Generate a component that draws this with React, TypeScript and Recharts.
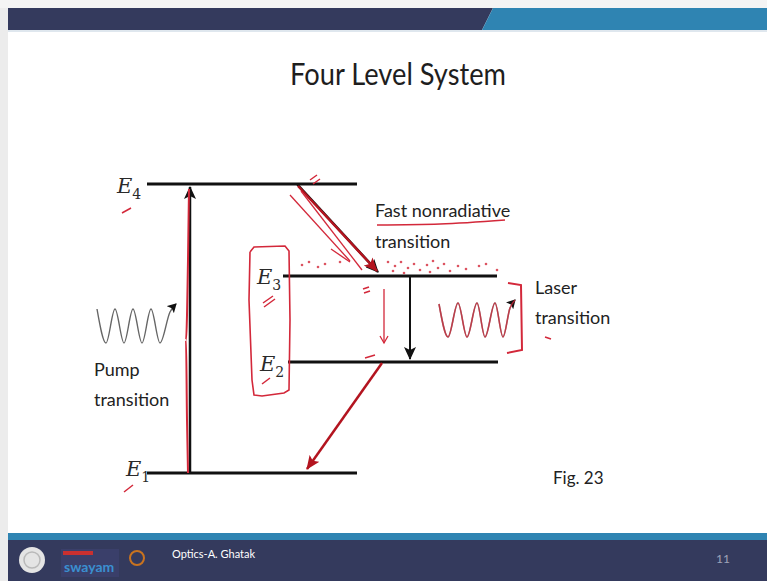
import React from 'react';
import { ComposedChart, Line, Scatter, XAxis, YAxis } from 'recharts';

// ---- Diagram data (diagram units: x across, y down) ----
const levelNames = ['E4', 'E3', 'E2', 'E1'];
const levelHeights = [184, 276, 362, 473];
const levelStarts = [147, 283, 288, 147];
const levelEnds = [357, 497, 498, 357];

const pumpArrow = [{ x: 190, y: 473 }, { x: 190, y: 187 }];
const nonradArrow = [{ x: 297, y: 184 }, { x: 378, y: 272 }];
const laserArrow = [{ x: 410, y: 277 }, { x: 410, y: 359 }];
const decayArrow = [{ x: 382, y: 363 }, { x: 307, y: 469 }];

const pumpWave = [
  { x: 97, y: 309 }, { x: 106, y: 343 }, { x: 115, y: 309 }, { x: 124, y: 343 },
  { x: 133, y: 309 }, { x: 142, y: 343 }, { x: 151, y: 309 }, { x: 160, y: 343 },
  { x: 170, y: 312 }, { x: 176, y: 304 },
];
const laserWave = [
  { x: 439, y: 304 }, { x: 448, y: 337 }, { x: 458, y: 303 }, { x: 467, y: 337 },
  { x: 477, y: 303 }, { x: 485, y: 337 }, { x: 495, y: 303 }, { x: 503, y: 337 },
  { x: 510, y: 308 }, { x: 515, y: 300 },
];

// red hand annotations
const redPump = [{ x: 188, y: 473 }, { x: 187, y: 420 }, { x: 186, y: 340 }, { x: 188, y: 260 }, { x: 189, y: 189 }];
const redNonrad = [{ x: 298, y: 186 }, { x: 377, y: 271 }];
const redStroke1 = [{ x: 290, y: 195 }, { x: 350, y: 261 }];
const redStroke2 = [{ x: 301, y: 191 }, { x: 362, y: 270 }];
const redStroke3 = [{ x: 331, y: 249 }, { x: 350, y: 262 }];
const redDown = [{ x: 384, y: 289 }, { x: 384, y: 343 }];
const redBox = [
  { x: 250, y: 252 }, { x: 254, y: 247 }, { x: 285, y: 246 }, { x: 289, y: 251 },
  { x: 290, y: 320 }, { x: 289, y: 390 }, { x: 284, y: 393 }, { x: 262, y: 396 },
  { x: 254, y: 395 }, { x: 252, y: 380 }, { x: 249, y: 300 }, { x: 250, y: 252 },
];
const redBracket = [{ x: 508, y: 283 }, { x: 521, y: 285 }, { x: 522, y: 350 }, { x: 507, y: 353 }];
const redUnderline = [{ x: 377, y: 225 }, { x: 440, y: 224 }, { x: 505, y: 220 }];
const redTicks = [
  [{ x: 122, y: 213 }, { x: 131, y: 208 }],
  [{ x: 310, y: 180 }, { x: 317, y: 175 }],
  [{ x: 313, y: 184 }, { x: 320, y: 179 }],
  [{ x: 263, y: 303 }, { x: 273, y: 296 }],
  [{ x: 264, y: 307 }, { x: 275, y: 299 }],
  [{ x: 262, y: 384 }, { x: 270, y: 378 }],
  [{ x: 124, y: 492 }, { x: 133, y: 485 }],
  [{ x: 363, y: 289 }, { x: 369, y: 287 }],
  [{ x: 364, y: 293 }, { x: 370, y: 291 }],
  [{ x: 365, y: 358 }, { x: 375, y: 355 }],
  [{ x: 545, y: 337 }, { x: 551, y: 339 }],
];
const redDots = [
  { x: 302, y: 265 }, { x: 309, y: 262 }, { x: 318, y: 267 }, { x: 325, y: 264 },
  { x: 340, y: 262 }, { x: 388, y: 262 }, { x: 395, y: 266 }, { x: 401, y: 262 },
  { x: 408, y: 268 }, { x: 414, y: 264 }, { x: 420, y: 270 }, { x: 427, y: 265 },
  { x: 433, y: 261 }, { x: 438, y: 268 }, { x: 444, y: 264 }, { x: 450, y: 271 },
  { x: 458, y: 266 }, { x: 466, y: 269 }, { x: 479, y: 266 }, { x: 486, y: 264 },
  { x: 497, y: 270 }, { x: 393, y: 271 }, { x: 404, y: 273 }, { x: 430, y: 272 },
];

const W = 767;
const H = 581;
const RED = '#d3283a';
const DARKRED = '#b3141f';
const font = 'Lato, "Open Sans", sans-serif';
const serif = '"DejaVu Serif", "Liberation Serif", serif';

const levelSeries = levelNames.map((n, i) => ({
  name: n,
  data: [{ x: levelStarts[i], y: levelHeights[i] }, { x: levelEnds[i], y: levelHeights[i] }],
}));

const lineProps = { dot: false, activeDot: false, isAnimationActive: false, dataKey: 'y' } as any;

function Chrome() {
  return (
    <svg width={W} height={H} style={{ position: 'absolute', left: 0, top: 0 }}>
      <defs>
        <marker id="ahBlack" markerUnits="userSpaceOnUse" markerWidth="14" markerHeight="12" refX="12" refY="6" orient="auto">
          <path d="M0,0 L13,6 L0,12 L3,6 z" fill="#111" />
        </marker>
        <marker id="ahRed" markerUnits="userSpaceOnUse" markerWidth="16" markerHeight="12" refX="13" refY="6" orient="auto">
          <path d="M0,0 L14,6 L0,12 L3,6 z" fill={DARKRED} />
        </marker>
        <marker id="ahSmall" markerUnits="userSpaceOnUse" markerWidth="10" markerHeight="10" refX="8" refY="5" orient="auto">
          <path d="M0,0 L9,5 L0,10 L2,5 z" fill="#111" />
        </marker>
        <marker id="ahSmallRed" markerUnits="userSpaceOnUse" markerWidth="10" markerHeight="10" refX="8" refY="5" orient="auto">
          <path d="M1,1 L8,5 L1,9" fill="none" stroke={RED} strokeWidth="1.3" />
        </marker>
      </defs>
      <rect x={0} y={0} width={W} height={H} fill="#ffffff" />
      <rect x={0} y={0} width={8} height={H} fill="#ececec" />
      <rect x={0} y={0} width={W} height={8} fill="#f4f4f4" />
      <polygon points="8,8 493,8 482,30 8,30" fill="#343a5d" />
      <polygon points="493,8 767,8 767,30 482,30" fill="#2f84b2" />
      <rect x={8} y={30} width={W - 8} height={2} fill="#dfe7ee" />
      <rect x={8} y={533} width={W - 8} height={7} fill="#2f84b2" />
      <rect x={8} y={540} width={W - 8} height={41} fill="#343a5d" />
      <circle cx={32} cy={560} r={13} fill="#e4e4e4" />
      <circle cx={32} cy={560} r={8} fill="none" stroke="#b9b9b9" strokeWidth={1.5} />
      <rect x={61} y={549} width={58} height={28} fill="#3a3f6a" />
      <rect x={63} y={551} width={30} height={4} fill="#c93030" />
      <text x={64} y={572} fontFamily={font} fontSize={14} fontWeight={700} fill="#3b8fd0">swayam</text>
      <circle cx={137} cy={558} r={7} fill="none" stroke="#c9731f" strokeWidth={2} />
      <text x={172} y={558} fontFamily={font} fontSize={11} fill="#ffffff">Optics-A. Ghatak</text>
      <text x={716} y={563} fontFamily={font} fontSize={12} fill="#9fa3b8">11</text>
    </svg>
  );
}

function Texts() {
  const eLabels = [
    { x: 117, y: 193 },
    { x: 257, y: 284 },
    { x: 260, y: 371 },
    { x: 126, y: 476 },
  ];
  const subs = ['4', '3', '2', '1'];
  return (
    <svg width={W} height={H} style={{ position: 'absolute', left: 0, top: 0, pointerEvents: 'none' }}>
      <text x={290} y={85} textLength={216} lengthAdjust="spacingAndGlyphs" fontFamily={font} fontSize={31} fill="#1e1e1e">Four Level System</text>
      <text x={375} y={217} fontFamily={font} fontSize={18} fill="#222">Fast nonradiative</text>
      <text x={375} y={248} fontFamily={font} fontSize={18} fill="#222">transition</text>
      <text x={535} y={294} fontFamily={font} fontSize={18} fill="#222">Laser</text>
      <text x={535} y={324} fontFamily={font} fontSize={18} fill="#222">transition</text>
      <text x={94} y={376} fontFamily={font} fontSize={18} fill="#222">Pump</text>
      <text x={94} y={406} fontFamily={font} fontSize={18} fill="#222">transition</text>
      <text x={553} y={484} fontFamily={font} fontSize={17} fill="#222">Fig. 23</text>
      {eLabels.map((p, i) => (
        <text key={i} x={p.x} y={p.y} fontFamily={serif} fontStyle="italic" fontSize={21} fill="#2a2a2a">
          E<tspan fontSize={14} dy={6} fontStyle="normal">{subs[i]}</tspan>
        </text>
      ))}
    </svg>
  );
}

export default function App() {
  return (
    <div style={{ position: 'absolute', left: 0, top: 0, width: W, height: H, overflow: 'hidden' }}>
      <Chrome />
      <div style={{ position: 'absolute', left: 0, top: 0 }}>
        <ComposedChart width={W} height={H} margin={{ top: 0, right: 0, bottom: 0, left: 0 }}>
          <XAxis type="number" dataKey="x" domain={[0, W]} hide allowDataOverflow />
          <YAxis type="number" dataKey="y" domain={[0, H]} reversed hide allowDataOverflow />
          {levelSeries.map((s) => (
            <Line key={s.name} {...lineProps} data={s.data} stroke="#111" strokeWidth={3} />
          ))}
          <Line {...lineProps} data={pumpArrow} stroke="#111" strokeWidth={2.5} markerEnd="url(#ahBlack)" />
          <Line {...lineProps} data={nonradArrow} stroke="#111" strokeWidth={2.5} markerEnd="url(#ahBlack)" />
          <Line {...lineProps} data={laserArrow} stroke="#111" strokeWidth={2} markerEnd="url(#ahBlack)" />
          <Line {...lineProps} data={pumpWave} type="monotoneX" stroke="#666" strokeWidth={1.4} markerEnd="url(#ahSmall)" />
          <Line {...lineProps} data={laserWave} type="monotoneX" stroke="#777" strokeWidth={1.4} markerEnd="url(#ahSmall)" />
          <Line {...lineProps} data={laserWave} type="monotoneX" stroke={RED} strokeWidth={1.6} strokeOpacity={0.75} />
          <Line {...lineProps} data={redPump} type="monotone" stroke={RED} strokeWidth={2} />
          <Line {...lineProps} data={redNonrad} stroke={DARKRED} strokeWidth={2.5} markerEnd="url(#ahRed)" />
          <Line {...lineProps} data={decayArrow} stroke={DARKRED} strokeWidth={2.5} markerEnd="url(#ahRed)" />
          <Line {...lineProps} data={redStroke1} stroke={RED} strokeWidth={1.3} />
          <Line {...lineProps} data={redStroke2} stroke={RED} strokeWidth={1.3} />
          <Line {...lineProps} data={redStroke3} stroke={RED} strokeWidth={1.3} />
          <Line {...lineProps} data={redDown} stroke={RED} strokeWidth={1.3} markerEnd="url(#ahSmallRed)" />
          <Line {...lineProps} data={redBox} type="linear" stroke={RED} strokeWidth={1.6} />
          <Line {...lineProps} data={redBracket} stroke={RED} strokeWidth={2} />
          <Line {...lineProps} data={redUnderline} type="monotone" stroke={RED} strokeWidth={1.6} />
          {redTicks.map((t, i) => (
            <Line key={'t' + i} {...lineProps} data={t} stroke={RED} strokeWidth={1.5} />
          ))}
          <Scatter
            data={redDots}
            dataKey="y"
            isAnimationActive={false}
            fill={RED}
            shape={(p: any) => <circle cx={p.cx} cy={p.cy} r={1.3} fill={RED} fillOpacity={0.8} />}
          />
        </ComposedChart>
      </div>
      <Texts />
    </div>
  );
}
